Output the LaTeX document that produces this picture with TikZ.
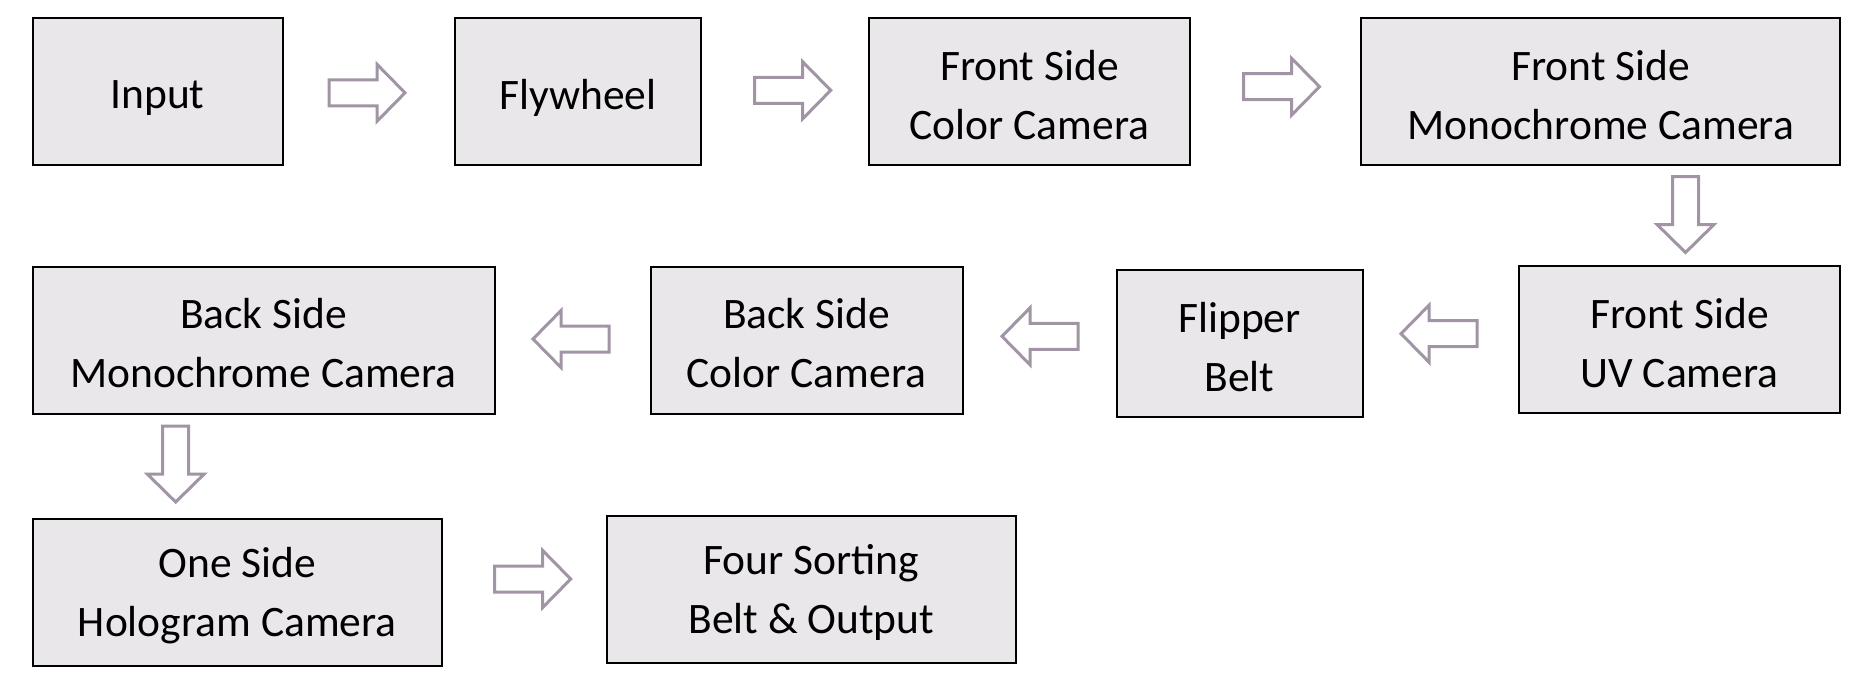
\documentclass[tikz,border=0pt]{standalone}
\usepackage{fontspec}
\setmainfont{Carlito}
\definecolor{boxfill}{HTML}{E9E7EA}
\definecolor{arrowcol}{HTML}{A194A4}
\tikzset{
  stage/.style={draw=black, line width=2pt, fill=boxfill, inner sep=0pt,
    minimum height=147pt},
  stagetext/.style={align=center, inner sep=0pt, yshift=-3.5pt,
    font=\fontsize{43.5}{59}\selectfont},
  onetext/.style={stagetext, yshift=-3pt},
  arrowline/.style={draw=arrowcol, line width=3pt, fill=white, line join=miter},
  blockarrow/.pic={\path[arrowline] (-38,-13) -- (10,-13) -- (10,-28.5) -- (38,0)
     -- (10,28.5) -- (10,13) -- (-38,13) -- cycle;}
}
\begin{document}
\begin{tikzpicture}[x=1pt,y=-1pt]
\useasboundingbox (0,0) rectangle (1867,685);
% row 1
\node[stage, minimum width=250pt, label={[onetext]center:{Input}}] (in) at (157.5,91.2) {};
\node[stage, minimum width=246pt, label={[onetext]center:{Flywheel}}] (fly) at (578,91.2) {};
\node[stage, minimum width=321pt, label={[stagetext]center:{Front Side\\Color Camera}}] (fsc) at (1029.4,91.2) {};
\node[stage, minimum width=479pt, label={[stagetext]center:{Front Side\\Monochrome Camera}}] (fsm) at (1600.7,91.2) {};
% row 2
\node[stage, minimum width=321pt, label={[stagetext]center:{Front Side\\UV Camera}}] (fsuv) at (1679.5,339.8) {};
\node[stage, minimum width=246pt, label={[stagetext]center:{Flipper\\Belt}}] (flip) at (1239.5,343.2) {};
\node[stage, minimum width=312pt, label={[stagetext]center:{Back Side\\Color Camera}}] (bsc) at (806.5,340) {};
\node[stage, minimum width=462pt, label={[stagetext]center:{Back Side\\Monochrome Camera}}] (bsm) at (263.5,340) {};
% row 3
\node[stage, minimum width=409pt, label={[stagetext]center:{One Side\\Hologram Camera}}] (holo) at (237.3,592) {};
\node[stage, minimum width=409pt, label={[stagetext]center:{Four Sorting\\Belt \& Output}}] (four) at (811.2,589.3) {};
% block arrows between stages
\pic at (367,92.8) {blockarrow};            % in -> fly
\pic at (792.7,90.3) {blockarrow};          % fly -> fsc
\pic at (1281.5,86.7) {blockarrow};         % fsc -> fsm
\pic[rotate=-90] at (1685.5,214.5) {blockarrow}; % fsm -> fsuv
\pic[rotate=180] at (1439,333.7) {blockarrow};   % fsuv -> flip
\pic[rotate=180] at (1040,336.3) {blockarrow};   % flip -> bsc
\pic[rotate=180] at (571,339) {blockarrow};      % bsc -> bsm
\pic[rotate=-90] at (175.7,464) {blockarrow};    % bsm -> holo
\pic at (532.7,579) {blockarrow};           % holo -> four
\end{tikzpicture}
\end{document}
